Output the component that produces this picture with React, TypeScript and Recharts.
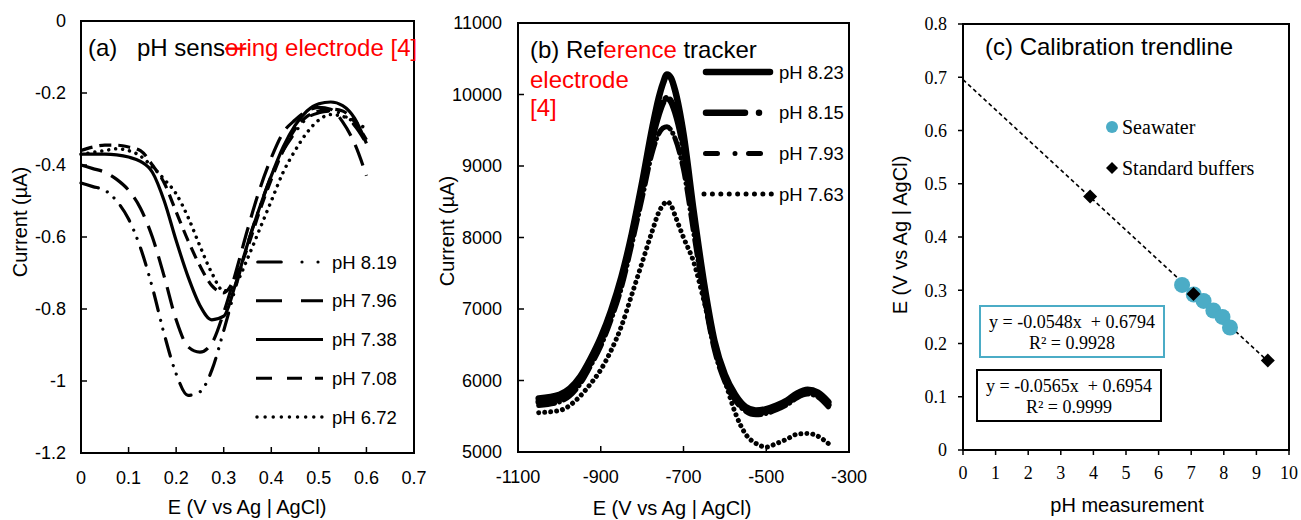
import React from 'react';
import { LineChart, Line, XAxis, YAxis, ReferenceArea, ComposedChart, Scatter, Legend } from 'recharts';

const SANS = '"Liberation Sans", Arial, Helvetica, sans-serif';
const SERIF = '"Liberation Serif", "Times New Roman", Times, serif';

// ---------------- Panel (a): pH sensing electrode ----------------
const aPotential = [0, 0.025, 0.05, 0.075, 0.1, 0.125, 0.15, 0.175, 0.2, 0.225, 0.25, 0.275, 0.3, 0.325, 0.35, 0.375, 0.4, 0.425, 0.45, 0.475, 0.5, 0.525, 0.55, 0.575, 0.6];
const aPH819 = [-0.45, -0.46, -0.47, -0.5, -0.55, -0.63, -0.74, -0.87, -0.98, -1.04, -1.03, -0.97, -0.86, -0.74, -0.62, -0.52, -0.43, -0.36, -0.31, -0.27, -0.255, -0.25, -0.26, -0.29, -0.34];
const aPH796 = [-0.4, -0.41, -0.42, -0.44, -0.47, -0.52, -0.6, -0.71, -0.83, -0.905, -0.92, -0.895, -0.81, -0.7, -0.58, -0.47, -0.38, -0.31, -0.275, -0.25, -0.24, -0.245, -0.28, -0.34, -0.43];
const aPH738 = [-0.37, -0.37, -0.37, -0.372, -0.378, -0.39, -0.42, -0.5, -0.61, -0.71, -0.79, -0.83, -0.82, -0.73, -0.62, -0.52, -0.43, -0.35, -0.29, -0.25, -0.23, -0.225, -0.235, -0.27, -0.34];
const aPH708 = [-0.36, -0.35, -0.345, -0.345, -0.35, -0.36, -0.4, -0.45, -0.53, -0.61, -0.68, -0.735, -0.755, -0.71, -0.63, -0.53, -0.44, -0.36, -0.3, -0.265, -0.25, -0.245, -0.25, -0.28, -0.33];
const aPH672 = [-0.37, -0.365, -0.36, -0.355, -0.36, -0.375, -0.405, -0.44, -0.48, -0.545, -0.625, -0.7, -0.75, -0.73, -0.66, -0.58, -0.5, -0.42, -0.36, -0.31, -0.275, -0.26, -0.265, -0.28, -0.3];
const aSeriesNames = ['pH 8.19', 'pH 7.96', 'pH 7.38', 'pH 7.08', 'pH 6.72'];
const aXTicks = [0, 0.1, 0.2, 0.3, 0.4, 0.5, 0.6, 0.7];
const aYTicks = [-1.2, -1, -0.8, -0.6, -0.4, -0.2, 0];

// ---------------- Panel (b): reference tracker electrode ----------------
const bPotential = [-1050, -1000, -950, -925, -900, -875, -850, -825, -800, -775, -760, -750, -740, -730, -720, -700, -675, -650, -625, -600, -575, -550, -525, -500, -475, -450, -425, -400, -375, -350];
const bPH823 = [5750, 5800, 6050, 6300, 6600, 6980, 7450, 8050, 8770, 9550, 9950, 10150, 10280, 10230, 10050, 9450, 8350, 7350, 6550, 6080, 5800, 5630, 5580, 5600, 5650, 5720, 5820, 5870, 5830, 5700];
const bPH815 = [5700, 5750, 6000, 6250, 6550, 6930, 7400, 8000, 8700, 9400, 9720, 9880, 9950, 9900, 9750, 9250, 8250, 7250, 6500, 6030, 5760, 5600, 5550, 5570, 5620, 5690, 5790, 5840, 5800, 5660];
const bPH793 = [5650, 5700, 5950, 6200, 6480, 6850, 7300, 7900, 8550, 9200, 9450, 9530, 9550, 9500, 9380, 8950, 8050, 7150, 6420, 5980, 5720, 5570, 5520, 5540, 5590, 5660, 5760, 5810, 5770, 5630];
const bPH763 = [5550, 5580, 5780, 5950, 6150, 6420, 6760, 7200, 7650, 8100, 8350, 8450, 8500, 8450, 8300, 8000, 7650, 7100, 6500, 6000, 5550, 5250, 5120, 5070, 5120, 5180, 5250, 5260, 5220, 5120];
const bSeriesNames = ['pH 8.23', 'pH 8.15', 'pH 7.93', 'pH 7.63'];
const bXTicks = [-1100, -900, -700, -500, -300];
const bYTicks = [5000, 6000, 7000, 8000, 9000, 10000, 11000];

// ---------------- Panel (c): calibration trendline ----------------
const seawaterPH = [6.72, 7.08, 7.38, 7.68, 7.96, 8.19];
const seawaterE = [0.31, 0.292, 0.28, 0.262, 0.25, 0.23];
const bufferPH = [3.9, 7.07, 9.35];
const bufferE = [0.476, 0.293, 0.168];
const trendPH = [0, 9.35];
const trendE = [0.6954, 0.167];
const cXTicks = [0, 1, 2, 3, 4, 5, 6, 7, 8, 9, 10];
const cYTicks = [0, 0.1, 0.2, 0.3, 0.4, 0.5, 0.6, 0.7, 0.8];
const cLegendNames = ['Seawater', 'Standard buffers'];
const seawaterEquation = ['y = -0.0548x  + 0.6794', 'R² = 0.9928'];
const bufferEquation = ['y = -0.0565x  + 0.6954', 'R² = 0.9999'];

// ---------------- derived tables ----------------
const aRows = aPotential.map((x, i) => ({ x, s0: aPH819[i], s1: aPH796[i], s2: aPH738[i], s3: aPH708[i], s4: aPH672[i] }));
const bRows = bPotential.map((x, i) => ({ x, s0: bPH823[i], s1: bPH815[i], s2: bPH793[i], s3: bPH763[i] }));
const seaRows = seawaterPH.map((ph, i) => ({ ph, e: seawaterE[i] }));
const bufRows = bufferPH.map((ph, i) => ({ ph, e: bufferE[i] }));
const trendRows = trendPH.map((ph, i) => ({ ph, e: trendE[i] }));

// ---------------- styles ----------------
const TEAL = '#4BACC6';
const RED = '#FF0000';
const AXIS_LINE = { stroke: '#000', strokeWidth: 2 };
const TICK_LINE = { stroke: '#000', strokeWidth: 1.5 };
const sansTick = { fontSize: 18, fill: '#000', fontFamily: SANS };
const serifTick = { fontSize: 18, fill: '#000', fontFamily: SERIF };

const aStyles = [
  { w: 3.2, dash: '18 10 0.01 9 0.01 10', cap: 'round', lx1: 7.75, lx2: 70, ldash: '23.5 20.75 0.01 16 0.01 100' },
  { w: 3.2, dash: '22 10', cap: 'butt', lx1: 6, lx2: 73, ldash: '26 19 22 100' },
  { w: 3.2, dash: undefined, cap: 'butt', lx1: 6, lx2: 73, ldash: undefined },
  { w: 3.2, dash: '12 7', cap: 'butt', lx1: 6, lx2: 73, ldash: '16 15 15 13 8 100' },
  { w: 3.5, dash: '0.01 7', cap: 'round', lx1: 7, lx2: 73, ldash: '0.01 8.1' },
];

const bStyles = [
  { w: 6.5, dash: undefined, lx1: 8, lx2: 72, ldash: undefined },
  { w: 6.5, dash: '40 5 0.01 5', lx1: 8, lx2: 66, ldash: '39 14 0.01 100' },
  { w: 5, dash: '16 5 0.01 5', lx1: 7.5, lx2: 66, ldash: '12 17.5 0.01 13.5 12 100' },
  { w: 5, dash: '0.01 6', lx1: 6, lx2: 74, ldash: '0.01 8.4' },
];

const renderLegendA = () => (
  <svg width={175} height={200} style={{ overflow: 'visible' }}>
    {aSeriesNames.map((name, i) => {
      const s = aStyles[i];
      const y = 22 + i * 38.75;
      return (
        <g key={name}>
          <line x1={s.lx1} x2={s.lx2} y1={y} y2={y} stroke="#000" strokeWidth={s.w} strokeDasharray={s.ldash} strokeLinecap={s.cap as any} />
          <text x={82} y={y} dominantBaseline="central" fontSize={18.5} fontFamily={SANS} fill="#000">{name}</text>
        </g>
      );
    })}
  </svg>
);

const renderLegendB = () => (
  <svg width={150} height={160} style={{ overflow: 'visible' }}>
    {bSeriesNames.map((name, i) => {
      const s = bStyles[i];
      const y = 22 + i * 40.7;
      return (
        <g key={name}>
          <line x1={s.lx1} x2={s.lx2} y1={y} y2={y} stroke="#000" strokeWidth={s.w} strokeDasharray={s.ldash} strokeLinecap="round" />
          <text x={81} y={y} dominantBaseline="central" fontSize={18.5} fontFamily={SANS} fill="#000">{name}</text>
        </g>
      );
    })}
  </svg>
);

const renderLegendC = () => (
  <svg width={200} height={85} style={{ overflow: 'visible' }}>
    <circle cx={12} cy={22} r={6} fill={TEAL} />
    <text x={22} y={22} dominantBaseline="central" fontSize={20} fontFamily={SERIF} fill="#000">{cLegendNames[0]}</text>
    <path d="M12,57 L18,63 L12,69 L6,63 Z" fill="#000" />
    <text x={22} y={63} dominantBaseline="central" fontSize={20} fontFamily={SERIF} fill="#000">{cLegendNames[1]}</text>
  </svg>
);

const SeaDot = (p: any) => <circle cx={p.cx} cy={p.cy} r={8} fill={TEAL} />;
const BufferDiamond = (p: any) => (
  <path d={`M${p.cx},${p.cy - 7} L${p.cx + 7},${p.cy} L${p.cx},${p.cy + 7} L${p.cx - 7},${p.cy} Z`} fill="#000" />
);

function PanelA() {
  return (
    <LineChart width={430} height={520} data={aRows} margin={{ top: 21, right: 16, bottom: 66, left: 80 }}>
      <XAxis type="number" dataKey="x" domain={[0, 0.7]} ticks={aXTicks} interval={0} height={1} tickSize={-6} tickMargin={24} axisLine={AXIS_LINE} tickLine={TICK_LINE} tick={sansTick} />
      <YAxis type="number" domain={[-1.2, 0]} ticks={aYTicks} interval={0} width={1} tickSize={-6} tickMargin={21} axisLine={AXIS_LINE} tickLine={TICK_LINE} tick={sansTick} />
      <ReferenceArea x1={0} x2={0.7} y1={-1.2} y2={0} fill="none" fillOpacity={0} stroke="#000" strokeWidth={2} />
      {aStyles.map((s, i) => (
        <Line key={aSeriesNames[i]} type="monotone" dataKey={`s${i}`} name={aSeriesNames[i]} stroke="#000" strokeWidth={s.w} strokeDasharray={s.dash} strokeLinecap={s.cap as any} dot={false} activeDot={false} isAnimationActive={false} />
      ))}
      <Legend layout="vertical" align="center" verticalAlign="middle" content={renderLegendA} wrapperStyle={{ left: 250, top: 240, width: 175, height: 200 }} />
    </LineChart>
  );
}

function PanelB() {
  return (
    <LineChart width={455} height={520} data={bRows} margin={{ top: 23, right: 36, bottom: 67, left: 87 }}>
      <XAxis type="number" dataKey="x" domain={[-1100, -300]} ticks={bXTicks} interval={0} height={1} tickSize={-6} tickMargin={24} axisLine={AXIS_LINE} tickLine={TICK_LINE} tick={sansTick} />
      <YAxis type="number" domain={[5000, 11000]} ticks={bYTicks} interval={0} width={1} tickSize={-6} tickMargin={22} axisLine={AXIS_LINE} tickLine={TICK_LINE} tick={sansTick} />
      <ReferenceArea x1={-1100} x2={-300} y1={5000} y2={11000} fill="none" fillOpacity={0} stroke="#000" strokeWidth={2} />
      {bStyles.map((s, i) => (
        <Line key={bSeriesNames[i]} type="monotone" dataKey={`s${i}`} name={bSeriesNames[i]} stroke="#000" strokeWidth={s.w} strokeDasharray={s.dash} strokeLinecap="round" strokeLinejoin="round" dot={false} activeDot={false} isAnimationActive={false} />
      ))}
      <Legend layout="vertical" align="center" verticalAlign="middle" content={renderLegendB} wrapperStyle={{ left: 268, top: 50, width: 150, height: 160 }} />
    </LineChart>
  );
}

function PanelC() {
  return (
    <ComposedChart width={441} height={520} margin={{ top: 24, right: 12, bottom: 69, left: 102 }}>
      <XAxis type="number" dataKey="ph" domain={[0, 10]} ticks={cXTicks} interval={0} height={1} tickSize={5} tickMargin={11} axisLine={AXIS_LINE} tickLine={TICK_LINE} tick={serifTick} />
      <YAxis type="number" dataKey="e" domain={[0, 0.8]} ticks={cYTicks} interval={0} width={1} tickSize={5} tickMargin={11} axisLine={AXIS_LINE} tickLine={TICK_LINE} tick={serifTick} />
      <ReferenceArea x1={0} x2={10} y1={0} y2={0.8} fill="none" fillOpacity={0} stroke="#000" strokeWidth={2} />
      <Scatter name={cLegendNames[0]} data={seaRows} dataKey="e" shape={SeaDot} isAnimationActive={false} />
      <Line data={trendRows} dataKey="e" type="linear" stroke="#000" strokeWidth={1.6} strokeDasharray="4 3" dot={false} activeDot={false} isAnimationActive={false} />
      <Scatter name={cLegendNames[1]} data={bufRows} dataKey="e" shape={BufferDiamond} isAnimationActive={false} />
      <Legend layout="vertical" align="center" verticalAlign="middle" content={renderLegendC} wrapperStyle={{ left: 240, top: 105, width: 200, height: 85 }} />
    </ComposedChart>
  );
}

const EqBox = ({ x, y, w, h, color, lines }: any) => (
  <g>
    <rect x={x} y={y} width={w} height={h} fill="#fff" stroke={color} strokeWidth={2} />
    <text x={x + w / 2} y={y + h * 0.31} textAnchor="middle" dominantBaseline="central" fontSize={18} fontFamily={SERIF} fill="#000" style={{ whiteSpace: 'pre' }}>{lines[0]}</text>
    <text x={x + w / 2} y={y + h * 0.73} textAnchor="middle" dominantBaseline="central" fontSize={18} fontFamily={SERIF} fill="#000">{lines[1]}</text>
  </g>
);

export default function App() {
  return (
    <div style={{ position: 'absolute', left: 0, top: 0, width: 1301, height: 520, background: '#fff', overflow: 'hidden' }}>
      <div style={{ position: 'absolute', left: 0, top: 0 }}><PanelA /></div>
      <div style={{ position: 'absolute', left: 860, top: 0 }}><PanelC /></div>
      <div style={{ position: 'absolute', left: 430, top: 0 }}><PanelB /></div>
      <svg width={1301} height={520} style={{ position: 'absolute', left: 0, top: 0, pointerEvents: 'none' }}>
        <g fontFamily={SANS} fill="#000">
          <text x={88} y={56} fontSize={24}>(a)</text>
          <text x={137} y={56} fontSize={24}>pH sens<tspan fill={RED} style={{ textDecoration: 'line-through' }}>or</tspan><tspan fill={RED}>ing electrode [4]</tspan></text>
          <text x={530} y={58} fontSize={24}>(b) Ref<tspan fill={RED}>erence</tspan> tracker</text>
          <text x={530} y={88} fontSize={24} fill={RED}>electrode</text>
          <text x={530} y={116} fontSize={24} fill={RED}>[4]</text>
          <text x={985} y={55} fontSize={24}>(c) Calibration trendline</text>

          <text transform="translate(20,222) rotate(-90)" textAnchor="middle" dominantBaseline="central" fontSize={20}>Current (µA)</text>
          <text transform="translate(447,231) rotate(-90)" textAnchor="middle" dominantBaseline="central" fontSize={20}>Current (µA)</text>
          <text transform="translate(900,235) rotate(-90)" textAnchor="middle" dominantBaseline="central" fontSize={20}>E (V vs Ag | AgCl)</text>
          <text x={247} y={507} textAnchor="middle" dominantBaseline="central" fontSize={20}>E (V vs Ag | AgCl)</text>
          <text x={672} y={508} textAnchor="middle" dominantBaseline="central" fontSize={20}>E (V vs Ag | AgCl)</text>
          <text x={1127} y={505} textAnchor="middle" dominantBaseline="central" fontSize={20}>pH measurement</text>
        </g>
        <EqBox x={980} y={306} w={184} h={51} color={TEAL} lines={seawaterEquation} />
        <EqBox x={977} y={370} w={184} h={51} color="#000" lines={bufferEquation} />
      </svg>
    </div>
  );
}
